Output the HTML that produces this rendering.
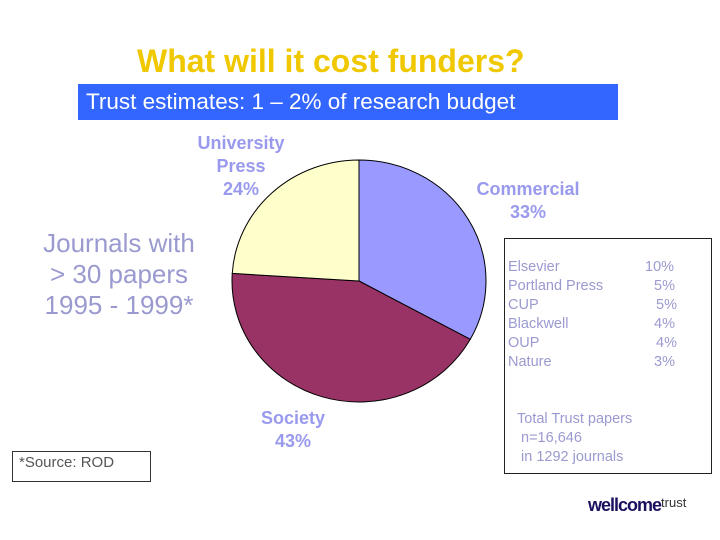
<!DOCTYPE html>
<html><head><meta charset="utf-8"><style>
body{margin:0;background:#fff;}
#root{position:relative;width:720px;height:540px;font-family:"Liberation Sans",sans-serif;overflow:hidden;}
.t{position:absolute;white-space:nowrap;}
.lbl{color:#9999ee;font-weight:bold;font-size:18px;text-align:center;line-height:23px;}
.pub{color:#9a9ad0;font-size:14.5px;line-height:19px;}
</style></head><body>
<div id="root">
<div class="t" style="left:137px;top:43px;font-size:32px;font-weight:bold;color:#f0c800;">What will it cost funders?</div>
<div class="t" style="left:78px;top:84px;width:540px;height:36px;background:#3366ff;color:#fff;font-size:22.5px;line-height:36px;padding-left:8px;box-sizing:border-box;">Trust estimates: 1 – 2% of research budget</div>
<div class="t" style="left:20px;top:228px;width:198px;text-align:center;color:#9a9ad0;font-size:26px;line-height:31px;">Journals with<br>&gt; 30 papers<br>1995 - 1999*</div>
<div class="t" style="left:12px;top:451px;width:139px;height:31px;border:1px solid #333;box-sizing:border-box;color:#555;font-size:15px;line-height:22px;padding-left:6px;">*Source: ROD</div>
<svg id="pie" width="720" height="540" style="position:absolute;left:0;top:0;"></svg>
<div class="t lbl" style="left:186px;top:132px;width:110px;">University<br>Press<br>24%</div>
<div class="t lbl" style="left:466px;top:178px;width:124px;">Commercial<br>33%</div>
<div class="t lbl" style="left:244px;top:407px;width:98px;">Society<br>43%</div>
<div class="t" style="left:504px;top:238px;width:208px;height:236px;border:1px solid #222;box-sizing:border-box;"></div>
<div id="pubs"></div>
<div class="t pub" style="left:517px;top:410px;">Total Trust papers<br>&nbsp;n=16,646<br>&nbsp;in 1292 journals</div>
<div class="t" style="left:588px;top:495px;color:#1a1060;font-size:18px;font-weight:bold;letter-spacing:-1px;">wellcome<span style="font-weight:normal;font-size:13px;vertical-align:4px;letter-spacing:0;color:#333;">trust</span></div>
</div>
<script>
const categories=["Commercial","Society","University Press"];
const shares=[33,43,24];
const colors=["#9999ff","#993366","#ffffcc"];
const publishers=["Elsevier","Portland Press","CUP","Blackwell","OUP","Nature"];
const pubShares=["10%","5%","5%","4%","4%","3%"];
const pubOffsets=[0,4,6,4,6,4];
const svg=document.getElementById('pie');
const cx=359,cy=281,rx=127,ry=121;
const total=shares.reduce((a,b)=>a+b,0);
let a0=0;
shares.forEach((v,i)=>{
  const a1=a0+v/total*2*Math.PI;
  const x0=cx+rx*Math.sin(a0),y0=cy-ry*Math.cos(a0);
  const x1=cx+rx*Math.sin(a1),y1=cy-ry*Math.cos(a1);
  const large=(a1-a0)>Math.PI?1:0;
  const p=document.createElementNS('http://www.w3.org/2000/svg','path');
  p.setAttribute('d',`M${cx},${cy}L${x0},${y0}A${rx},${ry} 0 ${large} 1 ${x1},${y1}Z`);
  p.setAttribute('fill',colors[i]);p.setAttribute('stroke','#000');p.setAttribute('stroke-width','1');
  
  
  svg.appendChild(p);a0=a1;
});
const pubs=document.getElementById('pubs');
publishers.forEach((n,i)=>{
  const d=document.createElement('div');d.className='t pub';
  d.style.left='508px';d.style.top=(258+i*19)+'px';d.textContent=n;
  
  
  pubs.appendChild(d);
  const s=document.createElement('div');s.className='t pub';
  s.style.left=(645+pubOffsets[i])+'px';s.style.top=(258+i*19)+'px';s.textContent=pubShares[i];
  if(i>0)s.style.left=(650+pubOffsets[i])+'px';
  
  
  pubs.appendChild(s);
});
</script>
</body></html>
